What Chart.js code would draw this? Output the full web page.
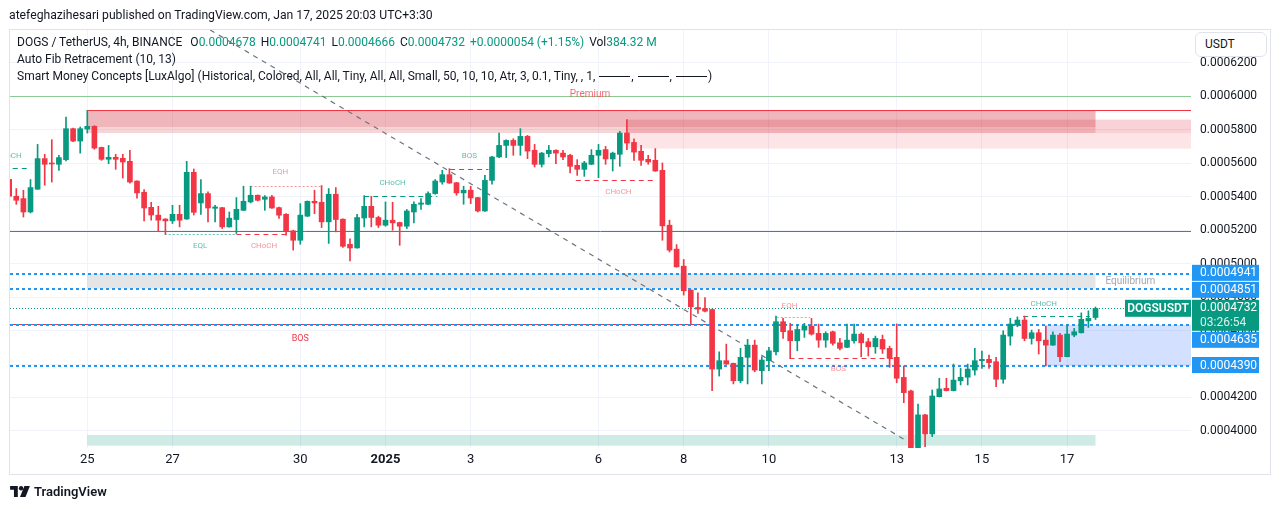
<!DOCTYPE html>
<html>
<head>
<meta charset="utf-8">
<title>DOGS / TetherUS 4h</title>
<script src="https://cdn.jsdelivr.net/npm/chart.js@4.4.1/dist/chart.umd.min.js"></script>
<style>
  body { margin: 0; background: #fff; font-family: Roboto, "Noto Sans", sans-serif; color: #131722; }
  #page { position: relative; width: 1281px; height: 509px; overflow: hidden; }
  #frame { position: absolute; left: 9px; top: 29px; width: 1262px; height: 446px; border: 1px solid #e0e3eb; box-sizing: border-box; }
  canvas { position: absolute; left: 0; top: 0; }
  .txt { position: absolute; white-space: nowrap; }
  #pub { left: 9px; top: 6px; font-size: 12.2px; line-height: 18px; }
  .leg { left: 17px; font-size: 12px; line-height: 17px; }
  .leg span { margin-left: 5px; }
  .up { color: #089981; font-style: normal; }
  .ln { display: inline-block; width: 31px; border-top: 1px solid #131722; vertical-align: middle; margin: 0 1px; }
  #usdt { left: 1195px; top: 32px; width: 72px; height: 25px; border: 1px solid #e0e3eb; border-radius: 6px; box-sizing: border-box; font-size: 12px; line-height: 23px; padding-left: 9px; background: #fff; }
  #logo { left: 10px; top: 484px; font-size: 13px; font-weight: 600; line-height: 15px; display: flex; align-items: center; gap: 4px; }
</style>
</head>
<body>
<div id="page">
  <div id="frame"></div>
  <canvas id="chart" width="1281" height="509"></canvas>
  <div class="txt" id="pub">atefeghazihesari published on TradingView.com, Jan 17, 2025 20:03 UTC+3:30</div>
  <div class="txt leg" style="top:34px">DOGS / TetherUS, 4h, BINANCE <span>O<i class="up">0.0004678</i></span><span>H<i class="up">0.0004741</i></span><span>L<i class="up">0.0004666</i></span><span>C<i class="up">0.0004732</i></span><span class="up">+0.0000054 (+1.15%)</span><span>Vol<i class="up">384.32 M</i></span></div>
  <div class="txt leg" style="top:51px">Auto Fib Retracement (10, 13)</div>
  <div class="txt leg" style="top:68px">Smart Money Concepts [LuxAlgo] (Historical, Colored, All, All, Tiny, All, All, Small, 50, 10, 10, Atr, 3, 0.1, Tiny, , 1, <i class="ln"></i>, <i class="ln"></i>, <i class="ln"></i>)</div>
  <div class="txt" id="usdt">USDT</div>
  <div class="txt" id="logo">
    <svg width="20" height="11" viewBox="0 0 36 20"><path d="M0 0h14v20H7V7H0z" fill="#131722"/><circle cx="20" cy="4" r="4" fill="#131722"/><path d="M26 0h10l-8 20H18z" fill="#131722"/></svg>
    <span>TradingView</span>
  </div>
</div>
<script>
// prices in units of 1e-7 USDT, one 4h candle per index (index 11 = Dec 25 00:00)
const UNIT = 1e-7;

const open = [
  5504,5403,5389,5309,5445,5628,5602,5594,5622,5807,
  5733,5805,5821,5695,5624,5636,5630,5612,5494,5427,
  5337,5290,5267,5256,5295,5267,5546,5363,5419,5331,
  5335,5220,5264,5319,5369,5409,5385,5399,5335,5295,
  5196,5140,5284,5373,5367,5250,5415,5266,5116,5094,
  5273,5343,5276,5230,5260,5246,5224,5309,5355,5355,
  5419,5488,5532,5484,5423,5439,5395,5315,5498,5638,
  5707,5737,5707,5761,5678,5594,5658,5678,5661,5648,
  5588,5564,5594,5648,5682,5626,5654,5781,5725,5672,
  5624,5618,5558,5230,5087,4985,4842,4738,4732,4726,
  4370,4420,4404,4300,4440,4513,4360,4420,4473,4653,
  4599,4539,4603,4627,4583,4543,4593,4527,4500,4539,
  4579,4533,4503,4547,4494,4440,4320,4239,3900,4096,
  3982,4205,4255,4241,4300,4321,4364,4420,4428,4414,
  4309,4567,4633,4663,4553,4587,4543,4513,4573,4444,
  4573,4587,4658,4678
];
const high = [
  5510,5449,5439,5503,5713,5654,5741,5648,5876,5810,
  5817,5916,5825,5697,5707,5654,5654,5678,5496,5443,
  5367,5343,5269,5349,5349,5612,5566,5503,5429,5349,
  5337,5309,5395,5463,5463,5411,5407,5409,5339,5300,
  5200,5359,5375,5439,5467,5449,5455,5268,5148,5295,
  5407,5403,5284,5369,5367,5248,5324,5369,5389,5429,
  5503,5558,5568,5486,5463,5463,5397,5528,5642,5781,
  5741,5747,5807,5767,5713,5665,5707,5680,5678,5654,
  5622,5612,5682,5713,5701,5667,5791,5861,5747,5707,
  5648,5688,5602,5260,5114,5025,4844,4826,4798,4728,
  4473,4519,4406,4494,4547,4543,4444,4500,4687,4673,
  4643,4633,4643,4673,4639,4593,4597,4553,4639,4639,
  4587,4553,4567,4573,4507,4640,4388,4245,4161,4100,
  4245,4315,4315,4400,4374,4400,4494,4478,4454,4440,
  4599,4673,4682,4687,4603,4607,4627,4593,4583,4633,
  4613,4706,4718,4741
];
const low = [
  5395,5355,5279,5303,5445,5469,5488,5558,5614,5730,
  5661,5781,5684,5618,5598,5564,5512,5482,5391,5256,
  5260,5196,5176,5240,5220,5265,5291,5294,5250,5250,
  5210,5218,5180,5317,5363,5375,5319,5331,5270,5170,
  5081,5116,5282,5299,5216,5121,5190,5097,5017,5092,
  5220,5220,5216,5224,5200,5110,5210,5244,5324,5353,
  5415,5475,5480,5409,5355,5359,5309,5313,5475,5634,
  5634,5648,5648,5628,5578,5578,5638,5598,5622,5542,
  5528,5522,5592,5514,5594,5554,5582,5682,5618,5588,
  5594,5552,5140,5070,4979,4812,4639,4703,4712,4241,
  4328,4398,4281,4288,4281,4354,4281,4360,4454,4553,
  4434,4479,4559,4573,4500,4500,4513,4484,4498,4524,
  4444,4448,4464,4464,4380,4288,4169,3850,3870,3906,
  3966,4203,4239,4239,4275,4275,4334,4374,4374,4264,
  4285,4513,4623,4539,4519,4460,4388,4511,4414,4442,
  4563,4585,4619,4666
];
const close = [
  5403,5379,5309,5455,5628,5594,5596,5634,5807,5733,
  5807,5821,5691,5624,5636,5624,5608,5488,5423,5333,
  5291,5260,5256,5295,5260,5546,5307,5419,5333,5339,
  5220,5272,5325,5373,5409,5379,5399,5333,5290,5196,
  5140,5290,5373,5363,5250,5415,5264,5104,5094,5276,
  5343,5276,5230,5260,5244,5224,5315,5355,5363,5419,
  5494,5532,5482,5423,5439,5393,5315,5498,5638,5707,
  5737,5707,5761,5673,5594,5661,5678,5661,5638,5582,
  5564,5602,5648,5678,5626,5661,5781,5721,5667,5618,
  5608,5554,5226,5081,4981,4838,4742,4728,4716,4370,
  4420,4400,4300,4440,4513,4364,4424,4479,4653,4593,
  4539,4607,4627,4579,4543,4583,4524,4494,4543,4579,
  4527,4503,4553,4490,4434,4315,4229,3880,4096,3982,
  4209,4251,4241,4304,4321,4370,4420,4428,4408,4309,
  4573,4639,4663,4553,4587,4539,4513,4573,4444,4579,
  4593,4667,4673,4732
];

const dayTicks = [11, 23, 41, 53, 65, 83, 95, 107, 125, 137, 149];
const dayLabels = ['25', '27', '30', '2025', '3', '6', '8', '10', '13', '15', '17'];
const priceTicks = [4000, 4200, 4400, 4600, 4800, 5000, 5200, 5400, 5600, 5800, 6000, 6200];

const fibLevels = [4941, 4851, 4635, 4390];
const lastPrice = 4732;
const trendLine = [{ x: 28.3, y: 6397 }, { x: 126.2, y: 3946 }];

const GREEN = '#089981', RED = '#f23645', BLUE = '#2196f3';
const tealT = 'rgba(8,153,129,0.65)', redT = 'rgba(242,54,69,0.55)';

// zones: from/to candle index (null = chart edge), top/bottom price
const zones = [
  { from: 11, to: 153, top: 5916, bottom: 5817, color: 'rgba(209,44,55,0.34)' },
  { from: 11, to: 153, top: 5817, bottom: 5781, color: 'rgba(209,44,55,0.2)' },
  { from: 87, to: null, top: 5861, bottom: 5688, color: 'rgba(242,54,69,0.13)' },
  { from: 87, to: null, top: 5861, bottom: 5781, color: 'rgba(209,44,55,0.1)' },
  { from: 11, to: 153, top: 4941, bottom: 4851, color: 'rgba(120,123,134,0.2)' },
  { from: 146, to: null, top: 4633, bottom: 4388, color: 'rgba(41,98,255,0.2)' },
  { from: 11, to: 153, top: 3976, bottom: 3912, color: 'rgba(8,153,129,0.2)' }
];

const levels = [
  { value: 6003, from: null, to: null, color: 'rgba(76,175,80,0.6)', width: 1, dash: [] },
  { value: 5916, from: 11, to: null, color: RED, width: 1, dash: [] },
  { value: 5194, from: null, to: null, color: RED, width: 1, dash: [] },
  { value: 4639, from: null, to: 99, color: RED, width: 1, dash: [] },
  ...fibLevels.map(v => ({ value: v, from: null, to: null, color: BLUE, width: 2, dash: [3, 3] })),
  { value: lastPrice, from: null, to: null, color: GREEN, width: 1, dash: [1, 2] }
];

// market structure segments
const structure = [
  { from: 0.5, to: 3, value: 5574, color: GREEN, dash: [5, 4] },
  { from: 34, to: 44, value: 5463, color: redT, dash: [2, 2] },
  { from: 21.9, to: 32, value: 5176, color: tealT, dash: [2, 2] },
  { from: 32, to: 39, value: 5180, color: RED, dash: [5, 4] },
  { from: 50, to: 60.3, value: 5407, color: GREEN, dash: [5, 4] },
  { from: 62.1, to: 67.5, value: 5568, color: GREEN, dash: [5, 4] },
  { from: 79.8, to: 91.2, value: 5503, color: RED, dash: [5, 4] },
  { from: 108.1, to: 112.8, value: 4682, color: redT, dash: [2, 2] },
  { from: 109.9, to: 124.5, value: 4434, color: RED, dash: [5, 4] },
  { from: 142.8, to: 152.2, value: 4685, color: GREEN, dash: [5, 4] }
];

const notes = [
  { text: 'Premium', x: 81.8, value: 6009, color: 'rgba(242,54,69,0.75)', size: 10 },
  { text: 'Equilibrium', x: 157.9, value: 4891, color: '#a3a6af', size: 10 },
  { text: 'BOS', x: 41, value: 4550, color: RED, size: 9 },
  { text: 'CHoCH', x: -0.1, value: 5646, color: tealT, size: 8 },
  { text: 'EQH', x: 38.2, value: 5547, color: redT, size: 8 },
  { text: 'EQL', x: 26.9, value: 5108, color: tealT, size: 8 },
  { text: 'CHoCH', x: 35.9, value: 5108, color: redT, size: 8 },
  { text: 'CHoCH', x: 54, value: 5484, color: tealT, size: 8 },
  { text: 'BOS', x: 64.8, value: 5646, color: tealT, size: 8 },
  { text: 'CHoCH', x: 85.8, value: 5431, color: redT, size: 8 },
  { text: 'EQH', x: 109.9, value: 4749, color: redT, size: 8 },
  { text: 'BOS', x: 116.8, value: 4369, color: redT, size: 8 },
  { text: 'CHoCH', x: 145.7, value: 4759, color: tealT, size: 8 }
];

const tags = [
  { value: 4941, color: BLUE, text: '0.0004941' },
  { value: 4851, color: BLUE, text: '0.0004851' },
  { value: lastPrice, color: GREEN, text: '0.0004732', sub: '03:26:54' },
  { value: 4635, color: BLUE, text: '0.0004635' },
  { value: 4390, color: BLUE, text: '0.0004390' }
];

const idx = open.map((_, i) => i);
const colors = idx.map(i => close[i] >= open[i] ? GREEN : RED);

const smc = {
  id: 'smc',
  beforeDatasetsDraw(chart) {
    const { ctx, chartArea: a, scales: { x, y } } = chart;
    const X = (v, edge) => v == null ? edge : x.getPixelForValue(v);
    const Y = v => y.getPixelForValue(v * UNIT);
    ctx.save();
    ctx.beginPath(); ctx.rect(a.left, a.top, a.right - a.left, a.bottom - a.top); ctx.clip();
    zones.forEach(z => {
      const x0 = X(z.from, a.left), x1 = X(z.to, a.right);
      ctx.fillStyle = z.color;
      ctx.fillRect(x0, Y(z.top), x1 - x0, Y(z.bottom) - Y(z.top));
    });
    [...levels, ...structure].forEach(l => {
      const yy = Math.round(Y(l.value)) + ((l.width || 1) % 2 ? 0.5 : 0);
      ctx.strokeStyle = l.color; ctx.lineWidth = l.width || 1; ctx.setLineDash(l.dash);
      ctx.beginPath(); ctx.moveTo(X(l.from, a.left), yy); ctx.lineTo(X(l.to, a.right), yy); ctx.stroke();
    });
    ctx.restore();
  },
  afterDatasetsDraw(chart) {
    const { ctx, chartArea: a, scales: { x, y } } = chart;
    ctx.save();
    ctx.beginPath(); ctx.rect(a.left, a.top, a.right - a.left, a.bottom - a.top); ctx.clip();
    ctx.textAlign = 'center'; ctx.textBaseline = 'middle';
    notes.forEach(n => {
      ctx.font = n.size + 'px Roboto';
      ctx.fillStyle = n.color;
      ctx.fillText(n.text, x.getPixelForValue(n.x), y.getPixelForValue(n.value * UNIT));
    });
    ctx.restore();
  },
  afterDraw(chart) {
    const { ctx, chartArea: a, scales: { y } } = chart;
    ctx.save();
    ctx.font = '12px Roboto'; ctx.textBaseline = 'middle'; ctx.textAlign = 'left';
    let prevBottom = -1;
    tags.forEach(t => {
      const yc = y.getPixelForValue(t.value * UNIT);
      const top = Math.max(yc - 8.7, prevBottom + 1);
      const h = t.sub ? 31 : 16;
      ctx.fillStyle = t.color;
      ctx.fillRect(a.right + 1, top, 67, h);
      ctx.fillStyle = '#fff';
      ctx.fillText(t.text, a.right + 9, top + 8.5);
      if (t.sub) {
        ctx.fillStyle = 'rgba(255,255,255,0.85)';
        ctx.fillText(t.sub, a.right + 9, top + 23);
        // symbol label on the price line
        ctx.fillStyle = t.color;
        ctx.fillRect(a.right - 66, top, 66, 17);
        ctx.fillStyle = '#fff'; ctx.font = '600 12px Roboto'; ctx.textAlign = 'center';
        ctx.fillText('DOGSUSDT', a.right - 33, top + 9);
        ctx.font = '12px Roboto'; ctx.textAlign = 'left';
      }
      prevBottom = top + h;
    });
    ctx.restore();
  }
};

new Chart(document.getElementById('chart'), {
  type: 'bar',
  data: {
    datasets: [
      { label: 'body', data: idx.map(i => ({ x: i, y: [open[i] * UNIT, close[i] * UNIT] })), backgroundColor: colors, barThickness: 5, minBarLength: 1, grouped: false, order: 1, clip: 0 },
      { label: 'wick', data: idx.map(i => ({ x: i, y: [low[i] * UNIT, high[i] * UNIT] })), backgroundColor: colors, barThickness: 1, grouped: false, order: 2, clip: 0 },
      { type: 'line', label: 'trend', data: trendLine.map(p => ({ x: p.x, y: p.y * UNIT })), borderColor: '#6f7380', borderWidth: 1.2, borderDash: [5, 5], pointRadius: 0, order: 3, clip: 0 }
    ]
  },
  options: {
    responsive: false, animation: false, devicePixelRatio: 1,
    layout: { padding: { left: 10, top: 30, right: 0, bottom: 0 } },
    plugins: { legend: { display: false }, tooltip: { enabled: false } },
    scales: {
      x: {
        type: 'linear', min: 0.113, max: 166.45, offset: false,
        afterBuildTicks: s => { s.ticks = dayTicks.map(v => ({ value: v })); },
        afterFit: s => { s.height = 61; },
        ticks: {
          padding: 4, color: '#131722', autoSkip: false, maxRotation: 0,
          font: c => ({ family: 'Roboto', size: 13, weight: c.tick && c.tick.value === 53 ? 'bold' : 'normal' }),
          callback: v => dayLabels[dayTicks.indexOf(v)]
        },
        grid: { color: '#f0f3fa', drawTicks: false, offset: false },
        border: { display: false }
      },
      y: {
        position: 'right', min: 3898 * UNIT, max: 6397 * UNIT,
        afterBuildTicks: s => { s.ticks = priceTicks.map(v => ({ value: v * UNIT })); },
        afterFit: s => { s.width = 90; },
        ticks: { padding: 9, color: '#131722', font: { family: 'Roboto', size: 12 }, callback: v => v.toFixed(7) },
        grid: { color: '#f0f3fa', drawTicks: false },
        border: { display: false }
      }
    }
  },
  plugins: [smc]
});
</script>
</body>
</html>
